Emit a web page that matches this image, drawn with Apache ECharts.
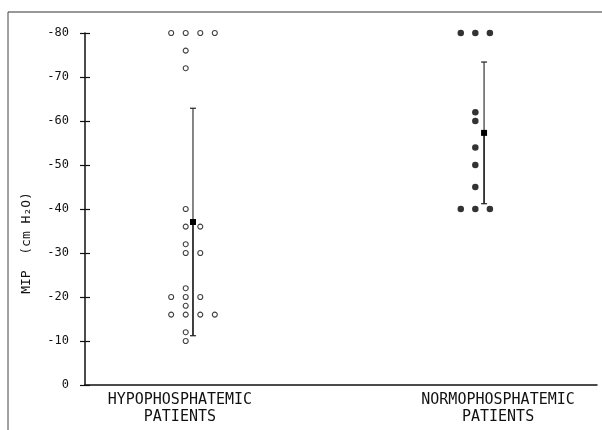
<!DOCTYPE html>
<html><head><meta charset="utf-8">
<script src="https://cdn.jsdelivr.net/npm/echarts@6/dist/echarts.min.js"></script>
<style>html,body{margin:0;padding:0;background:#fff}#c{width:602px;height:430px}</style>
</head><body><div id="c"></div>
<script>
// ---- data ----
const groupNames = ['HYPOPHOSPHATEMIC\nPATIENTS', 'NORMOPHOSPHATEMIC\nPATIENTS'];
const groupPos = [0, 1];
const labelPos = [-0.045, 1.048];
const hypoValues  = [-80,-80,-80,-80,-76,-72,-40,-36,-36,-32,-30,-30,-22,-20,-20,-20,-18,-16,-16,-16,-16,-12,-10];
const hypoColumns = [-1.5,-0.5,0.5,1.5,-0.5,-0.5,-0.5,-0.5,0.5,-0.5,-0.5,0.5,-0.5,-1.5,-0.5,0.5,-0.5,-1.5,-0.5,0.5,1.5,-0.5,-0.5];
const normoValues  = [-80,-80,-80,-62,-60,-54,-50,-45,-40,-40,-40];
const normoColumns = [-1.6,-0.6,0.4,-0.6,-0.6,-0.6,-0.6,-0.6,-1.6,-0.6,0.4];
const means = [-37.05, -57.3];
const sds = [25.85, 16.1];
const yTickValues = [0,-10,-20,-30,-40,-50,-60,-70,-80];

const colW = 0.05;
const hypoData = hypoValues.map((v,i)=>[groupPos[0] + hypoColumns[i]*colW, v]);
const normoData = normoValues.map((v,i)=>[groupPos[1] + normoColumns[i]*colW, v]);

const mono = 'DejaVu Sans Mono';
const chart = echarts.init(document.getElementById('c'), null, {renderer:'canvas'});
const yBase = {
  type:'value', min:-80, max:0, interval:10, inverse:true, position:'left',
  splitLine:{show:false}
};
chart.setOption({
  animation:false,
  backgroundColor:'#fff',
  grid:{left:85, right:5, top:33, bottom:45},
  xAxis:{
    type:'value', min:-0.371, max:1.388,
    axisLine:{show:true, onZero:false, lineStyle:{color:'#111', width:1.5}},
    axisTick:{show:false},
    splitLine:{show:false},
    axisLabel:{
      customValues: labelPos,
      formatter:(v)=> v < 0.5 ? groupNames[0] : groupNames[1],
      fontFamily:mono, fontSize:15, color:'#111', lineHeight:17, margin:7, align:'center'
    }
  },
  yAxis:[
    Object.assign({}, yBase, {
      name:'MIP  (cm H₂O)', nameLocation:'middle', nameRotate:90, nameGap:52,
      nameTextStyle:{fontFamily:mono, fontSize:13, color:'#111', padding:[0,68,0,0]},
      axisLine:{show:true, onZero:false, lineStyle:{color:'#111', width:1.5}},
      axisTick:{show:true, length:5, lineStyle:{color:'#111', width:1.2}},
      axisLabel:{fontFamily:mono, fontSize:12, color:'#111', margin:16}
    }),
    Object.assign({}, yBase, {
      axisLine:{show:false, onZero:false},
      axisTick:{show:true, inside:true, length:5, lineStyle:{color:'#111', width:1.2}},
      axisLabel:{show:false}
    })
  ],
  graphic:[
    {type:'line', shape:{x1:8, y1:12, x2:8, y2:430}, style:{stroke:'#444', lineWidth:1}, silent:true},
    {type:'line', shape:{x1:8, y1:12, x2:602, y2:12}, style:{stroke:'#333', lineWidth:1.2}, silent:true}
  ],
  series:[
    {
      type:'custom', xAxisIndex:0, yAxisIndex:0,
      data: groupPos.map((g,i)=>[g, means[i], sds[i]]),
      renderItem:(params, api)=>{
        const x = api.value(0), m = api.value(1), s = api.value(2);
        const top = api.coord([x, m - s]);
        const bot = api.coord([x, m + s]);
        const mid = api.coord([x, m]);
        const cap = 3;
        return {type:'group', children:[
          {type:'line', shape:{x1:top[0], y1:top[1], x2:mid[0], y2:mid[1]}, style:{stroke:'#222', lineWidth:1.1}},
          {type:'line', shape:{x1:mid[0], y1:mid[1], x2:bot[0], y2:bot[1]}, style:{stroke:'#111', lineWidth:1.6}},
          {type:'line', shape:{x1:top[0]-cap, y1:top[1], x2:top[0]+cap, y2:top[1]}, style:{stroke:'#222', lineWidth:1.2}},
          {type:'line', shape:{x1:bot[0]-cap, y1:bot[1], x2:bot[0]+cap, y2:bot[1]}, style:{stroke:'#222', lineWidth:1.2}},
          {type:'rect', shape:{x:mid[0]-3, y:mid[1]-3, width:6, height:6}, style:{fill:'#000'}}
        ]};
      }
    },
    {
      type:'scatter', data:hypoData, symbol:'circle', symbolSize:5,
      itemStyle:{color:'#fff', borderColor:'#111', borderWidth:1.1}
    },
    {
      type:'scatter', data:normoData, symbol:'circle', symbolSize:6.5,
      itemStyle:{color:'#000'}
    }
  ]
});
</script>
</body></html>
